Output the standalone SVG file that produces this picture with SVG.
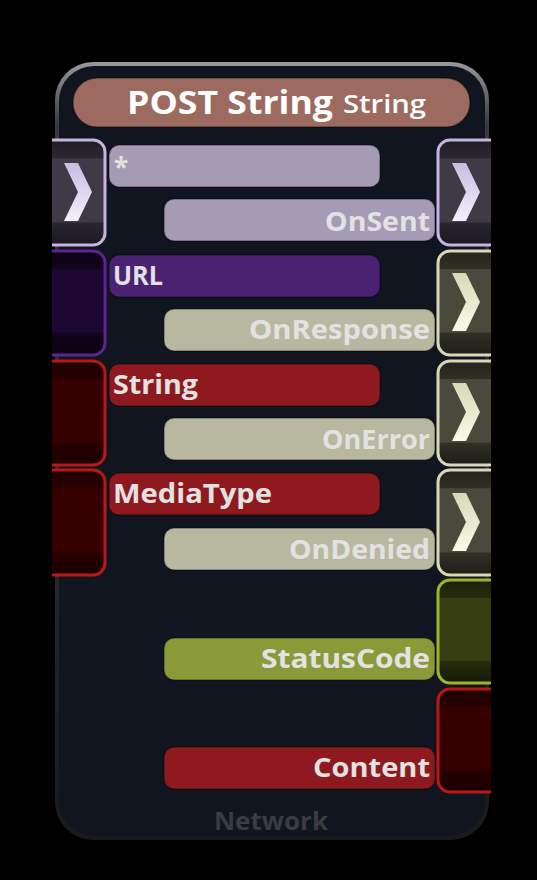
<svg xmlns="http://www.w3.org/2000/svg" width="537" height="880" viewBox="0 0 537 880">
<defs>
<style>
.lbl{font-family:"Open Sans","Noto Sans",sans-serif;font-weight:700;font-size:26px;fill:#e2e2e2}
.bar{stroke:#000;stroke-opacity:0.35;stroke-width:1.5}
.port{stroke-width:3}
</style>
<linearGradient id="border" x1="0" y1="0" x2="0" y2="1">
<stop offset="0" stop-color="#9a9a9a"/><stop offset="0.08" stop-color="#3a3a3e"/><stop offset="1" stop-color="#1a1a1c"/>
</linearGradient>
<linearGradient id="gLav" x1="0" y1="0" x2="0" y2="1">
<stop offset="0" stop-color="#201c24"/><stop offset="0.17" stop-color="#2c2830"/><stop offset="0.18" stop-color="#3e3a46"/><stop offset="0.78" stop-color="#3e3a46"/><stop offset="0.79" stop-color="#2a2630"/><stop offset="1" stop-color="#1a1820"/>
</linearGradient>
<linearGradient id="gPur" x1="0" y1="0" x2="0" y2="1">
<stop offset="0" stop-color="#0c0212"/><stop offset="0.17" stop-color="#12041c"/><stop offset="0.18" stop-color="#1c0830"/><stop offset="0.78" stop-color="#1c0830"/><stop offset="0.79" stop-color="#12041c"/><stop offset="1" stop-color="#0a0210"/>
</linearGradient>
<linearGradient id="gRed" x1="0" y1="0" x2="0" y2="1">
<stop offset="0" stop-color="#1e0000"/><stop offset="0.17" stop-color="#280000"/><stop offset="0.18" stop-color="#360000"/><stop offset="0.78" stop-color="#360000"/><stop offset="0.79" stop-color="#280000"/><stop offset="1" stop-color="#1a0000"/>
</linearGradient>
<linearGradient id="gCream" x1="0" y1="0" x2="0" y2="1">
<stop offset="0" stop-color="#24241c"/><stop offset="0.17" stop-color="#303026"/><stop offset="0.18" stop-color="#4a4a3c"/><stop offset="0.78" stop-color="#4a4a3c"/><stop offset="0.79" stop-color="#303026"/><stop offset="1" stop-color="#1e1e18"/>
</linearGradient>
<linearGradient id="gOlive" x1="0" y1="0" x2="0" y2="1">
<stop offset="0" stop-color="#1c2008"/><stop offset="0.17" stop-color="#262c0c"/><stop offset="0.18" stop-color="#363e12"/><stop offset="0.78" stop-color="#363e12"/><stop offset="0.79" stop-color="#262c0c"/><stop offset="1" stop-color="#161a06"/>
</linearGradient>
<linearGradient id="chevL" x1="0" y1="0" x2="0" y2="1">
<stop offset="0" stop-color="#c8bce0"/><stop offset="1" stop-color="#f4f0ff"/>
</linearGradient>
<linearGradient id="chevC" x1="0" y1="0" x2="0" y2="1">
<stop offset="0" stop-color="#d8d8b8"/><stop offset="1" stop-color="#fafae8"/>
</linearGradient>
<clipPath id="clip"><rect x="52" y="0" width="439" height="880"/></clipPath>
</defs>
<rect width="537" height="880" fill="#000"/>

<g id="body">
<rect x="55" y="62" width="434" height="778" rx="38" fill="url(#border)"/>
<rect x="59" y="66" width="426" height="770" rx="35" fill="#111520"/>
<text x="214" y="830" textLength="114" lengthAdjust="spacingAndGlyphs" font-family="'Open Sans','Noto Sans',sans-serif" font-weight="700" font-size="25" fill="#3a3c40">Network</text>
</g>

<g id="title">
<rect x="73" y="78" width="397" height="49" rx="24" fill="#9c6a5f" stroke="#000" stroke-opacity="0.4" stroke-width="1.5"/>
<text x="127" y="114" textLength="206" lengthAdjust="spacingAndGlyphs" font-family="'Open Sans','Noto Sans',sans-serif" font-weight="700" font-size="33" fill="#ffffff">POST String</text>
<text x="343" y="113" textLength="83" lengthAdjust="spacingAndGlyphs" font-family="'Open Sans','Noto Sans',sans-serif" font-weight="600" font-size="26" fill="#ffffff">String</text>
</g>

<g id="ports" clip-path="url(#clip)">
<g id="in-exec">
<rect x="30" y="140" width="75" height="105" rx="12" fill="url(#gLav)" stroke="#c4b4de" class="port"/>
<path d="M64 163 L78 163 L92 192 L78 221 L64 221 L78 192 Z" fill="url(#chevL)"/>
</g>
<g id="in-url"><rect x="30" y="251" width="75" height="104" rx="12" fill="url(#gPur)" stroke="#5e2394" class="port"/></g>
<g id="in-string"><rect x="30" y="361" width="75" height="104" rx="12" fill="url(#gRed)" stroke="#b81818" class="port"/></g>
<g id="in-mediatype"><rect x="30" y="470" width="75" height="105" rx="12" fill="url(#gRed)" stroke="#b81818" class="port"/></g>

<g id="out-onsent">
<rect x="438" y="140" width="80" height="105" rx="12" fill="url(#gLav)" stroke="#c4b4de" class="port"/>
<path d="M452 163 L466 163 L480 192 L466 221 L452 221 L466 192 Z" fill="url(#chevL)"/>
</g>
<g id="out-onresponse">
<rect x="438" y="251" width="80" height="104" rx="12" fill="url(#gCream)" stroke="#d8d8b8" class="port"/>
<path d="M452 273 L466 273 L480 302 L466 331 L452 331 L466 302 Z" fill="url(#chevC)"/>
</g>
<g id="out-onerror">
<rect x="438" y="361" width="80" height="104" rx="12" fill="url(#gCream)" stroke="#d8d8b8" class="port"/>
<path d="M452 383 L466 383 L480 412 L466 441 L452 441 L466 412 Z" fill="url(#chevC)"/>
</g>
<g id="out-ondenied">
<rect x="438" y="470" width="80" height="105" rx="12" fill="url(#gCream)" stroke="#d8d8b8" class="port"/>
<path d="M452 493 L466 493 L480 522 L466 551 L452 551 L466 522 Z" fill="url(#chevC)"/>
</g>
<g id="out-statuscode"><rect x="438" y="580" width="80" height="103" rx="12" fill="url(#gOlive)" stroke="#9cb42c" class="port"/></g>
<g id="out-content"><rect x="438" y="689" width="80" height="103" rx="12" fill="url(#gRed)" stroke="#b81818" class="port"/></g>
</g>

<g id="connectors"></g>

<g id="pins">
<g id="bar-exec"><rect x="109" y="145" width="271" height="42" rx="10" fill="#a59bb5" class="bar"/><text x="114" y="177" class="lbl" font-size="22">*</text></g>
<g id="bar-onsent"><rect x="164" y="199" width="271" height="42" rx="10" fill="#a59bb5" class="bar"/><text x="325" y="231" textLength="105" lengthAdjust="spacingAndGlyphs" class="lbl">OnSent</text></g>
<g id="bar-url"><rect x="109" y="255" width="271" height="42" rx="10" fill="#4b2272" class="bar"/><text x="113" y="285" textLength="50" lengthAdjust="spacingAndGlyphs" class="lbl">URL</text></g>
<g id="bar-onresponse"><rect x="164" y="309" width="271" height="42" rx="10" fill="#b8b8a0" class="bar"/><text x="249" y="339" textLength="181" lengthAdjust="spacingAndGlyphs" class="lbl">OnResponse</text></g>
<g id="bar-string"><rect x="109" y="364" width="271" height="42" rx="10" fill="#8e1a20" class="bar"/><text x="113" y="394" textLength="85" lengthAdjust="spacingAndGlyphs" class="lbl">String</text></g>
<g id="bar-onerror"><rect x="164" y="418" width="271" height="42" rx="10" fill="#b8b8a0" class="bar"/><text x="322" y="449" textLength="108" lengthAdjust="spacingAndGlyphs" class="lbl">OnError</text></g>
<g id="bar-mediatype"><rect x="109" y="473" width="271" height="42" rx="10" fill="#8e1a20" class="bar"/><text x="113" y="503" textLength="159" lengthAdjust="spacingAndGlyphs" class="lbl">MediaType</text></g>
<g id="bar-ondenied"><rect x="164" y="528" width="271" height="42" rx="10" fill="#b8b8a0" class="bar"/><text x="289" y="559" textLength="141" lengthAdjust="spacingAndGlyphs" class="lbl">OnDenied</text></g>
<g id="bar-statuscode"><rect x="164" y="638" width="271" height="42" rx="10" fill="#8a9a38" class="bar"/><text x="261" y="668" textLength="169" lengthAdjust="spacingAndGlyphs" class="lbl">StatusCode</text></g>
<g id="bar-content"><rect x="164" y="747" width="271" height="42" rx="10" fill="#8e1a20" class="bar"/><text x="313" y="777" textLength="117" lengthAdjust="spacingAndGlyphs" class="lbl">Content</text></g>
</g>
</svg>
